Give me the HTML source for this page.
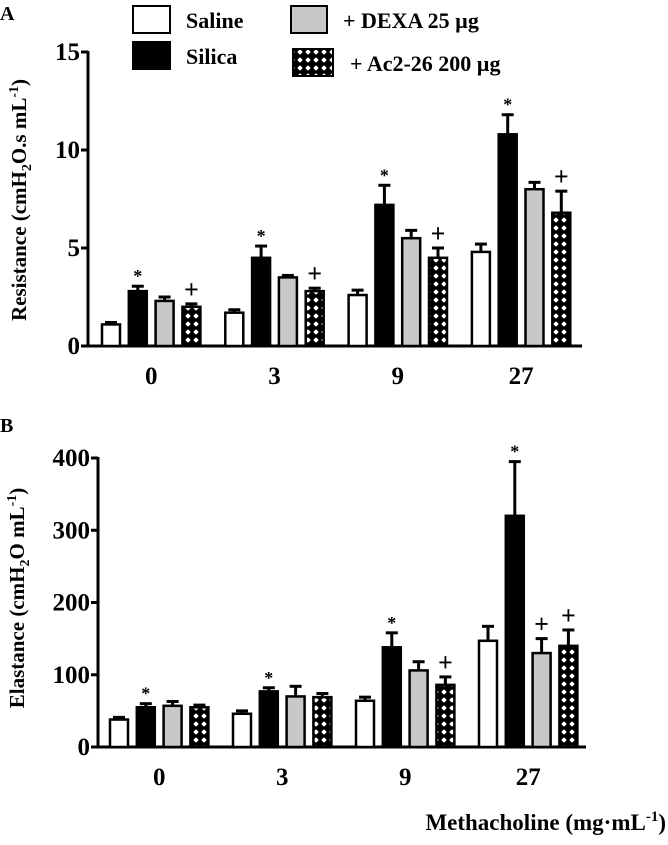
<!DOCTYPE html>
<html><head><meta charset="utf-8"><style>
body{margin:0;background:#fff}
svg, svg text{font-family:"Liberation Serif","Times New Roman","DejaVu Serif",serif;font-weight:bold}
</style></head><body>
<svg id="c" width="668" height="840" viewBox="0 0 668 840" font-family="Liberation Serif, serif">
<defs>
<pattern id="hatch" width="8" height="8" patternUnits="userSpaceOnUse">
<rect width="8" height="8" fill="#000"/>
<polygon points="4,1.2 6.8,4 4,6.8 1.2,4" fill="#fff"/>
</pattern>
</defs>
<text x="0" y="20" font-size="20">A</text>
<text x="0" y="432" font-size="20">B</text>
<g>
<rect x="133" y="6" width="37" height="27" fill="#fff" stroke="#000" stroke-width="2"/>
<text x="186" y="28" font-size="22">Saline</text>
<rect x="133" y="42" width="37" height="27" fill="#000" stroke="#000" stroke-width="2"/>
<text x="186" y="64" font-size="22">Silica</text>
<rect x="291" y="6" width="36" height="27" fill="#c8c8c8" stroke="#000" stroke-width="2"/>
<text x="343" y="28" font-size="22">+ DEXA 25 µg</text>
<rect x="293" y="49" width="40" height="27" fill="url(#hatch)" stroke="#000" stroke-width="2"/>
<text x="350" y="71" font-size="22">+ Ac2-26 200 µg</text>
</g>
<text transform="translate(26,200) rotate(-90)" text-anchor="middle" font-size="21">Resistance (cmH<tspan font-size="14" dy="5">2</tspan><tspan dy="-5">O.s mL</tspan><tspan font-size="14" dy="-8">-1</tspan><tspan dy="8">)</tspan></text>
<text transform="translate(24,598) rotate(-90)" text-anchor="middle" font-size="21">Elastance (cmH<tspan font-size="14" dy="5">2</tspan><tspan dy="-5">O mL</tspan><tspan font-size="14" dy="-8">-1</tspan><tspan dy="8">)</tspan></text>
<text x="666" y="830" text-anchor="end" font-size="23">Methacholine (mg·mL<tspan font-size="15" dy="-9">-1</tspan><tspan dy="9">)</tspan></text>
</svg>
<script>
const categories=["0","3","9","27"];
const seriesNames=["Saline","Silica","+ DEXA 25 µg","+ Ac2-26 200 µg"];
const resSaline=[1.1,1.7,2.6,4.8];
const resSilica=[2.8,4.5,7.2,10.8];
const resDexa=[2.3,3.5,5.5,8.0];
const resAc2=[2.0,2.8,4.5,6.8];
const resSalineErr=[0.1,0.15,0.25,0.4];
const resSilicaErr=[0.25,0.6,1.0,1.0];
const resDexaErr=[0.2,0.1,0.4,0.35];
const resAc2Err=[0.15,0.15,0.5,1.1];
const resTicks=[0,5,10,15];
const elaSaline=[38,46,64,147];
const elaSilica=[55,77,138,320];
const elaDexa=[57,70,106,130];
const elaAc2=[55,69,86,140];
const elaSalineErr=[3,4,5,20];
const elaSilicaErr=[5,5,20,75];
const elaDexaErr=[6,14,12,20];
const elaAc2Err=[3,5,11,22];
const elaTicks=[0,100,200,300,400];
const resMarks=[["","*","","+"],["","*","","+"],["","*","","+"],["","*","","+"]];
const elaMarks=[["","*","",""],["","*","",""],["","*","","+"],["","*","+","+"]];
const fills=["#fff","#000","#c8c8c8","url(#hatch)"];
const NS="http://www.w3.org/2000/svg";
const svg=document.getElementById("c");
function mk(t,a){const e=document.createElementNS(NS,t);for(const k in a)e.setAttribute(k,a[k]);svg.appendChild(e);return e;}
function panel(p){
 const y=v=>p.y0-(v-p.vmin)/(p.vmax-p.vmin)*(p.y0-p.y1);
 const gx=i=>p.gx0+i*p.gpitch;
 let e=mk("line",{x1:p.ax,y1:y(p.vmax)-1,x2:p.ax,y2:p.y0,stroke:"#000","stroke-width":3});
 
 
 e=mk("line",{x1:p.ax,y1:p.y0,x2:p.axEnd,y2:p.y0,stroke:"#000","stroke-width":3});
 
 
 p.ticks.forEach(t=>{
  const l=mk("line",{x1:p.ax-7,y1:y(t),x2:p.ax,y2:y(t),stroke:"#000","stroke-width":3});
  
  
  const tx=mk("text",{x:p.ax-8,y:y(t)+8,"text-anchor":"end","font-size":25});
  tx.textContent=t;
  
  
 });
 categories.forEach((c,i)=>{
  const tx=mk("text",{x:gx(i)+1.5*p.pitch+p.bw/2,y:p.y0+38,"text-anchor":"middle","font-size":25});
  tx.textContent=c;
  
  
  p.series.forEach((s,j)=>{
   const x=gx(i)+j*p.pitch, v=s[i], er=p.errs[j][i];
   const top=y(v+er);
   const el=mk("line",{x1:x+p.bw/2,y1:top,x2:x+p.bw/2,y2:y(v),stroke:"#000","stroke-width":3});
   
   
   const cap=mk("line",{x1:x+p.bw/2-6,y1:top,x2:x+p.bw/2+6,y2:top,stroke:"#000","stroke-width":3});
   
   
   const b=mk("rect",{x:x,y:y(v),width:p.bw,height:p.y0-y(v),fill:fills[j],stroke:"#000","stroke-width":2.5});
   
   
   const m=p.marks[i][j];
   if(m){const t=mk("text",{x:x+p.bw/2,y:top-(m=="*"?4:6),"text-anchor":"middle","font-size":m=="*"?18:26});
    t.textContent=m;
    
    }
  });
 });
}
panel({id:"resistance",ax:88,axEnd:582,y0:346,y1:52,vmin:0,vmax:15,ticks:resTicks,gx0:102,gpitch:123.3,pitch:26.8,bw:18,
 series:[resSaline,resSilica,resDexa,resAc2],errs:[resSalineErr,resSilicaErr,resDexaErr,resAc2Err],marks:resMarks});
panel({id:"elastance",ax:98,axEnd:586,y0:747,y1:458,vmin:0,vmax:400,ticks:elaTicks,gx0:110,gpitch:123,pitch:26.8,bw:18,
 series:[elaSaline,elaSilica,elaDexa,elaAc2],errs:[elaSalineErr,elaSilicaErr,elaDexaErr,elaAc2Err],marks:elaMarks});
</script>
</body></html>
